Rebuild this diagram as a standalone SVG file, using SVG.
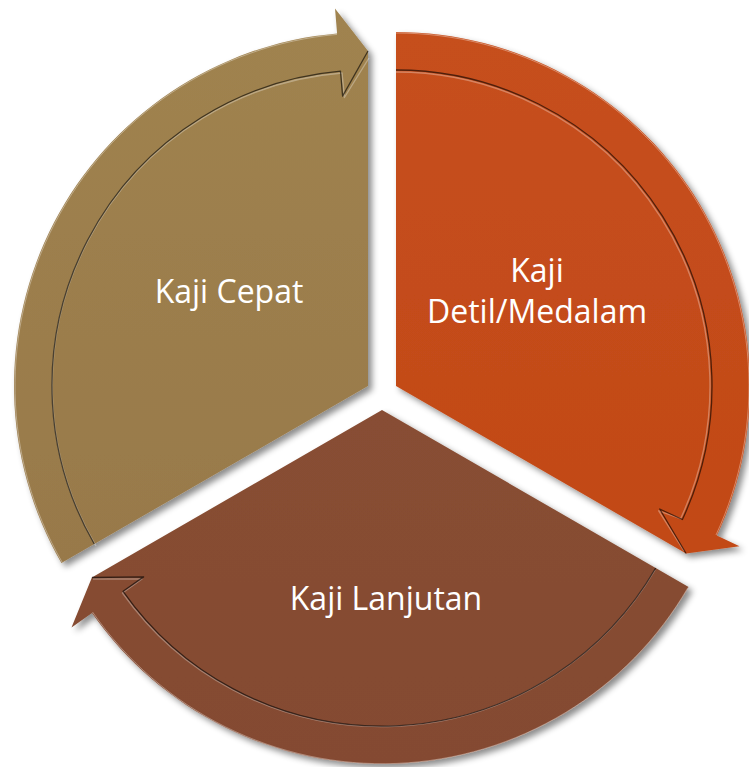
<svg xmlns="http://www.w3.org/2000/svg" width="749" height="767" viewBox="0 0 749 767">
  <defs>
    <filter id="shadow" x="-10%" y="-10%" width="125%" height="125%">
      <feDropShadow dx="4" dy="4" stdDeviation="3" flood-color="#000" flood-opacity="0.45"/>
    </filter>
    <linearGradient id="gTan" x1="0" y1="0" x2="0" y2="1">
      <stop offset="0" stop-color="#a0834f"/>
      <stop offset="1" stop-color="#98794a"/>
    </linearGradient>
    <linearGradient id="gOrange" x1="0" y1="0" x2="0" y2="1">
      <stop offset="0" stop-color="#c64f1d"/>
      <stop offset="1" stop-color="#c24917"/>
    </linearGradient>
    <linearGradient id="gBrown" x1="0" y1="0" x2="0" y2="1">
      <stop offset="0" stop-color="#884e34"/>
      <stop offset="1" stop-color="#844a31"/>
    </linearGradient>
  </defs>
  <style>
    .seg { filter: url(#shadow); }
    .groove { fill: none; stroke: #000; stroke-opacity: 0.6; stroke-width: 1.3; stroke-linejoin: round; }
    .hl { fill: none; stroke: #fff; stroke-opacity: 0.3; stroke-width: 1.4; stroke-linejoin: round; }
    .rim { fill: none; stroke: #fff; stroke-opacity: 0.35; stroke-width: 1; }
    .label { font-family: "Open Sans", "Liberation Sans", sans-serif; font-size: 32px; fill: #ffffff; text-anchor: middle; }
  </style>

  <g id="node-kaji-cepat">
    <path class="seg" fill="url(#gTan)" d="M368,386 L61.4,563 A354,354 0 0 1 337.1,33.4 L335,8.4 L368,51 Z"/>
    <path class="hl" d="M96,546 A314,314 0 0 1 342,73 L344.4,97.5 L369,58"/>
    <path class="groove" d="M94.3,544 A316,316 0 0 1 340.5,71.2 L342.6,96.1 L368,51"/>
    <path class="rim" d="M62,562 A353,353 0 0 1 337,34.4"/>
    <text class="label" x="229" y="303">Kaji Cepat</text>
  </g>

  <g id="node-kaji-detil">
    <path class="seg" fill="url(#gOrange)" d="M396,386 L396,32 A354,354 0 0 1 716.8,535.6 L739.5,546.2 L686.1,553.5 Z"/>
    <path class="hl" d="M396,72 A314,314 0 0 1 680.6,518.7 L658.7,510.8 L684,551"/>
    <path class="groove" d="M396,70 A316,316 0 0 1 682.4,519.5 L659.7,509 L686.1,553.5"/>
    <path class="rim" d="M396,33 A353,353 0 0 1 716,535"/>
    <text class="label" x="537" y="282">Kaji</text>
    <text class="label" x="537" y="323">Detil/Medalam</text>
  </g>

  <g id="node-kaji-lanjutan">
    <path class="seg" fill="url(#gBrown)" d="M382,410 L688.6,587 A354,354 0 0 1 92,613 L71.5,627.4 L91.9,577.5 Z"/>
    <path class="hl" d="M655,570 A317.5,317.5 0 0 1 122.5,593 L142,579 L93,579"/>
    <path class="groove" d="M655.7,568 A316,316 0 0 1 123.1,591.3 L143.6,576.9 L91.9,577.5"/>
    <path class="rim" d="M688,587.5 A353,353 0 0 1 92.5,612"/>
    <text class="label" x="386" y="610">Kaji Lanjutan</text>
  </g>

  <g id="connectors"/>
</svg>
